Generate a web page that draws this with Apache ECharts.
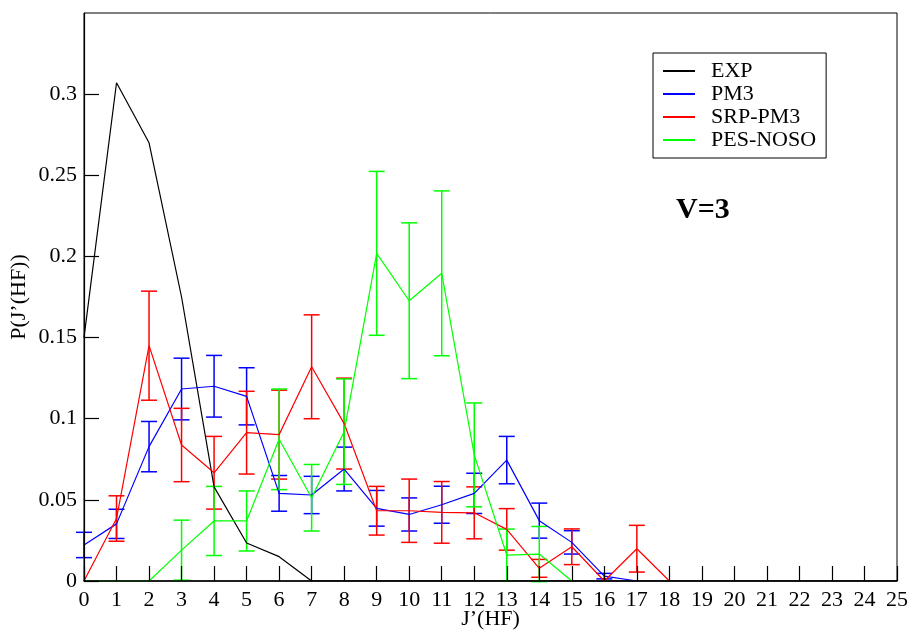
<!DOCTYPE html>
<html>
<head>
<meta charset="utf-8">
<script src="https://cdn.jsdelivr.net/npm/echarts@6/dist/echarts.min.js"></script>
<style>
  html, body { margin: 0; padding: 0; background: #fff; }
  #chart { width: 910px; height: 630px; }
</style>
</head>
<body>
<div id="chart"></div>
<script>
// Rotational distribution P(J'(HF)) for v=3
const jValues = Array.from({ length: 26 }, (_, i) => i);

const expValues = [0.150, 0.307, 0.270, 0.175, 0.058, 0.0234, 0.015, 0, 0, 0, 0, 0, 0,
                   0, 0, 0, 0, 0, 0, 0, 0, 0, 0, 0, 0, 0];

const pm3Values = [0.0222, 0.0352, 0.0828, 0.1183, 0.120, 0.1138, 0.054, 0.053, 0.069,
                   0.0448, 0.041, 0.047, 0.054, 0.0745, 0.0372, 0.0238, 0.003, 0];
const pm3Errors = [0.0078, 0.009, 0.0155, 0.019, 0.019, 0.0176, 0.011, 0.0115, 0.0135,
                   0.011, 0.0102, 0.0114, 0.0124, 0.0146, 0.0108, 0.0072, 0.0017, 0];

const srpValues = [0, 0.0385, 0.145, 0.0838, 0.0667, 0.0914, 0.0902, 0.132, 0.097,
                   0.0433, 0.0433, 0.0423, 0.042, 0.0318, 0.0078, 0.0211, 0, 0.0199, 0];
const srpErrors = [0, 0.014, 0.0336, 0.0226, 0.0224, 0.0255, 0.0274, 0.032, 0.028,
                   0.015, 0.0195, 0.019, 0.016, 0.0128, 0.0055, 0.011, 0, 0.0144, 0];

const pesValues = [0, 0, 0, 0.019, 0.037, 0.037, 0.0873, 0.0513, 0.092,
                   0.2019, 0.1727, 0.1896, 0.0777, 0.016, 0.0166, 0];
const pesErrors = [0, 0, 0, 0.0185, 0.0213, 0.0185, 0.031, 0.0205, 0.0325,
                   0.0505, 0.048, 0.0508, 0.032, 0.016, 0.017, 0];

const xTicks = { min: 0, max: 25, interval: 1 };
const yTicks = { min: 0, max: 0.35, interval: 0.05 };

const FONT = 'Liberation Serif';

function pairs(vals) {
  return vals.map((v, i) => [jValues[i], v]);
}

function errorData(vals, errs) {
  return vals.map((v, i) => [jValues[i], v - errs[i], v + errs[i], errs[i]]);
}

function errorSeries(name, color, vals, errs) {
  return {
    type: 'custom',
    name: name,
    silent: true,
    data: errorData(vals, errs),
    encode: { x: 0, y: [1, 2] },
    renderItem: function (params, api) {
      if (api.value(3) <= 0) return null;
      const x = api.value(0);
      const lo = api.coord([x, api.value(1)]);
      const hi = api.coord([x, api.value(2)]);
      const hw = 8;
      const style = { stroke: color, lineWidth: 1.5 };
      return {
        type: 'group',
        children: [
          { type: 'line', shape: { x1: lo[0], y1: lo[1], x2: hi[0], y2: hi[1] }, style: style },
          { type: 'line', shape: { x1: hi[0] - hw, y1: hi[1], x2: hi[0] + hw, y2: hi[1] }, style: style },
          { type: 'line', shape: { x1: lo[0] - hw, y1: lo[1], x2: lo[0] + hw, y2: lo[1] }, style: style }
        ]
      };
    }
  };
}

function lineSeries(name, color, vals) {
  return {
    type: 'line',
    name: name,
    data: pairs(vals),
    symbol: 'none',
    showSymbol: false,
    lineStyle: { color: color, width: 1.2 },
    itemStyle: { color: color },
    animation: false
  };
}

const chart = echarts.init(document.getElementById('chart'));
chart.setOption({
  animation: false,
  backgroundColor: '#fff',
  grid: {
    left: 84, right: 13, top: 13, bottom: 49,
    containLabel: false,
    outerBoundsMode: 'none',
    show: true, borderColor: '#000', borderWidth: 1
  },
  legend: {
    data: ['EXP', 'PM3', 'SRP-PM3', 'PES-NOSO'],
    orient: 'vertical',
    left: 653, top: 53,
    padding: [7, 10, 7, 9],
    itemGap: 1,
    itemWidth: 32,
    itemHeight: 14,
    itemStyle: { opacity: 0 },
    borderColor: '#000',
    borderWidth: 1,
    backgroundColor: '#fff',
    textStyle: { fontFamily: FONT, fontSize: 22, color: '#000', padding: [0, 0, 0, 11] }
  },
  xAxis: {
    type: 'value',
    min: xTicks.min, max: xTicks.max, interval: xTicks.interval,
    z: 5,
    name: 'J’(HF)',
    nameLocation: 'middle',
    nameGap: 27,
    nameMoveOverlap: false,
    nameTextStyle: { fontFamily: FONT, fontSize: 22, color: '#000' },
    axisLine: { lineStyle: { color: '#000', width: 1.5 } },
    axisTick: { inside: true, length: 15, lineStyle: { color: '#000', width: 1.2 } },
    axisLabel: { fontFamily: FONT, fontSize: 22, color: '#000', margin: 8 },
    splitLine: { show: false }
  },
  yAxis: {
    type: 'value',
    min: yTicks.min, max: yTicks.max, interval: yTicks.interval,
    z: 5,
    name: 'P(J’(HF))',
    nameLocation: 'middle',
    nameGap: 54,
    nameMoveOverlap: false,
    nameTextStyle: { fontFamily: FONT, fontSize: 22, color: '#000' },
    axisLine: { lineStyle: { color: '#000', width: 1.2 } },
    axisTick: { inside: true, length: 15, lineStyle: { color: '#000', width: 1.2 } },
    axisLabel: { fontFamily: FONT, fontSize: 22, color: '#000', margin: 7, showMaxLabel: false },
    splitLine: { show: false }
  },
  graphic: [{
    type: 'text',
    left: 676, top: 195,
    style: { text: 'V=3', font: 'bold 30px "Liberation Serif"', fill: '#000' }
  }],
  series: [
    lineSeries('EXP', '#000000', expValues),
    lineSeries('PM3', '#0000ff', pm3Values),
    errorSeries('PM3', '#0000ff', pm3Values, pm3Errors),
    lineSeries('SRP-PM3', '#ff0000', srpValues),
    errorSeries('SRP-PM3', '#ff0000', srpValues, srpErrors),
    lineSeries('PES-NOSO', '#00ff00', pesValues),
    errorSeries('PES-NOSO', '#00ff00', pesValues, pesErrors)
  ]
});
</script>
</body>
</html>
